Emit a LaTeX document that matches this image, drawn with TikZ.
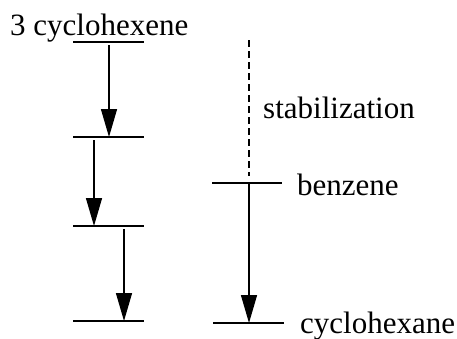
\documentclass[tikz,border=0pt]{standalone}
\usepackage{fontspec}
\setmainfont{Liberation Serif}
\usetikzlibrary{arrows.meta}
\tikzset{
  level/.style={line width=1.6pt},
  down/.style={line width=1.4pt,-{Triangle[length=28pt,width=16pt]}},
  lab/.style={font=\fontsize{31}{36}\selectfont,inner sep=0pt,anchor=base west},
}
\begin{document}
\begin{tikzpicture}[x=1pt,y=-1pt]
\useasboundingbox (0,0) rectangle (457,338);
% left levels
\coordinate (a0l) at (73,42);  \coordinate (a0r) at (144,42);
\coordinate (a1l) at (73,137); \coordinate (a1r) at (144,137);
\coordinate (a2l) at (73,226); \coordinate (a2r) at (144,226);
\coordinate (a3l) at (73,321); \coordinate (a3r) at (144,321);
\foreach \i in {0,1,2,3} \draw[level] (a\i l) -- (a\i r);
% arrows
\coordinate (s1) at (109,45);  \coordinate (e1) at (109,137);
\coordinate (s2) at (94,140);  \coordinate (e2) at (94,226);
\coordinate (s3) at (124,229); \coordinate (e3) at (124,321);
\draw[down] (s1) -- (e1);
\draw[down] (s2) -- (e2);
\draw[down] (s3) -- (e3);
% right
\coordinate (bl) at (212,183); \coordinate (br) at (282,183);
\coordinate (cl) at (213,323); \coordinate (cr) at (284,323);
\draw[level] (bl) -- (br);
\draw[level] (cl) -- (cr);
\coordinate (top) at (249,40); \coordinate (dend) at (249,176);
\coordinate (bs) at (249,183); \coordinate (ce) at (249,323);
\draw[line width=1.3pt,dash pattern=on 7pt off 4pt] (top) -- (dend);
\draw[down] (bs) -- (ce);
% labels
\node[lab] (t0) at (10,35) {3 cyclohexene};
\node[lab] (ts) at (263,118) {stabilization};
\node[lab] (tb) at (297,195) {benzene};
\node[lab] (tc) at (300,333) {cyclohexane};
\end{tikzpicture}
\end{document}
